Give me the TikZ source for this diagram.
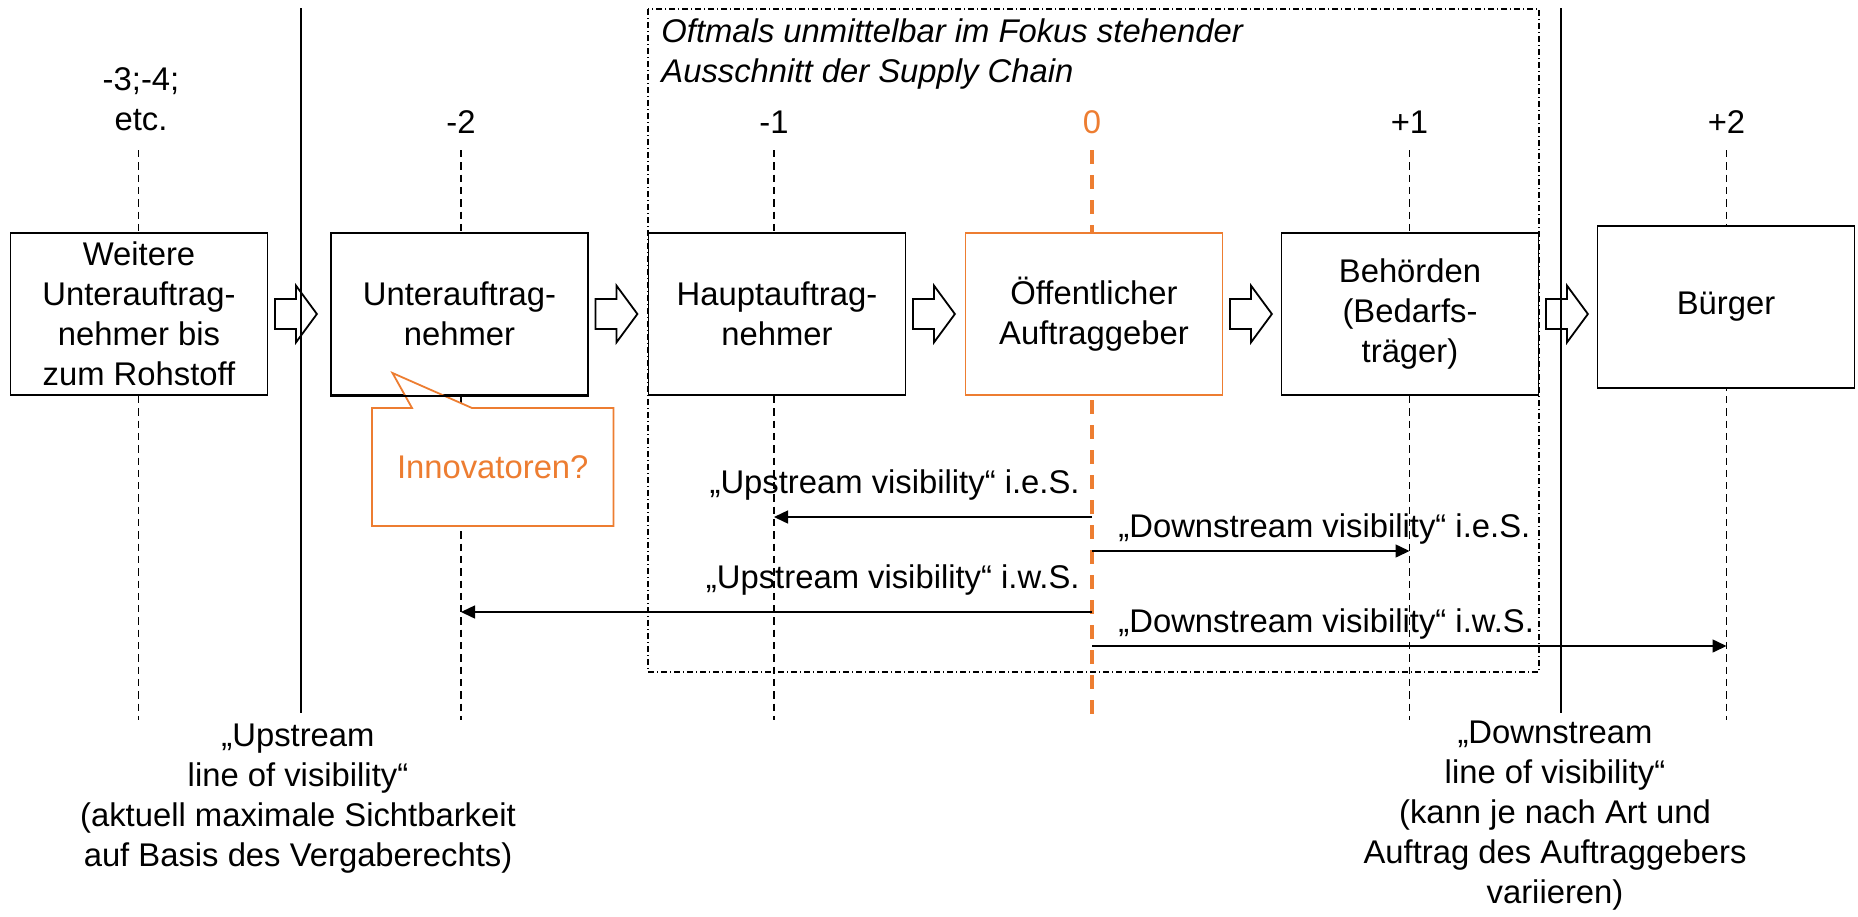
\documentclass[tikz,border=0pt]{standalone}
\usepackage{fontspec}
\setmainfont{Liberation Sans}
\usetikzlibrary{arrows.meta,calc}
\definecolor{accent}{RGB}{237,125,49}
% hollow block arrow placed just right of a stage box
\newcommand\flowarrow[1]{%
  \draw[push] ($(#1.east)+(6.5,-15)$) -- ++(21,0) -- ++(0,-13.5) -- ++(21,28.5)
    -- ++(-21,28.5) -- ++(0,-13.5) -- ++(-21,0) -- cycle;}
\begin{document}
\begin{tikzpicture}[x=0.5pt,y=-0.5pt,
  font=\fontsize{16.4}{20}\selectfont,
  stage/.style={draw=black,line width=0.9pt,fill=white,minimum width=128.5pt,
    minimum height=81pt,inner sep=0pt,align=center},
  focusstage/.style={stage,draw=accent},
  level/.style={anchor=base,inner sep=0pt},
  guide/.style={line width=0.75pt,dash pattern=on 3.65pt off 2.5pt},
  focusguide/.style={draw=accent,line width=2pt,dash pattern=on 7pt off 5.5pt},
  visline/.style={line width=0.7pt},
  flow/.style={line width=0.75pt,-{Triangle[length=7pt,width=6.5pt]}},
  focusframe/.style={line width=0.65pt,dash pattern=on 3pt off 1.5pt on 0.5pt off 1.5pt},
  push/.style={line width=0.9pt,line join=miter},
  note/.style={inner sep=0pt,align=center}]
\useasboundingbox (0,0) rectangle (1858,916);

% frame around the usual focus section
\draw[focusframe] (648,9) rectangle (1539,672);
\node[anchor=north west,inner sep=0pt,align=left,font=\fontsize{16.4}{20}\selectfont\itshape]
  (focuslabel) at (661,18) {Oftmals unmittelbar im Fokus stehender\\Ausschnitt der Supply Chain};

% stage guide lines
\foreach \n/\x in {1/138.5,2/461,3/774,5/1409.5,6/1726.5}{
  \coordinate (g\n t) at (\x,150);
  \coordinate (g\n b) at (\x,720);
  \draw[guide] (g\n t) -- (g\n b);
}
\coordinate (g4t) at (1092,150);
\coordinate (g4b) at (1092,717);
\draw[focusguide] (g4t) -- (g4b);

% lines of visibility
\coordinate (uvt) at (301,8);
\coordinate (uvb) at (301,713);
\draw[visline] (uvt) -- (uvb);
\coordinate (dvt) at (1561,8);
\coordinate (dvb) at (1561,713);
\draw[visline] (dvt) -- (dvb);

% stage numbers
\node[level] (lv1a) at (141,90) {-3;-4;};
\node[level] (lv1b) at (141,130) {etc.};
\node[level] (lv2) at (461,133) {-2};
\node[level] (lv3) at (774,133) {-1};
\node[level,text=accent] (lv4) at (1092,133) {0};
\node[level] (lv5) at (1409.5,133) {+1};
\node[level] (lv6) at (1726.5,133) {+2};

% stages
\node[stage] (s1) at (139,314) {Weitere\\Unterauftrag-\\nehmer bis\\zum Rohstoff};
\node[stage] (s2) at (459.5,314) {Unterauftrag-\\nehmer};
\node[stage] (s3) at (777,314) {Hauptauftrag-\\nehmer};
\node[focusstage] (s4) at (1094,314) {Öffentlicher\\Auftraggeber};
\node[stage] (s5) at (1410,314) {Behörden\\(Bedarfs-\\träger)};
\node[stage] (s6) at (1726,307) {Bürger};

\flowarrow{s1}
\flowarrow{s2}
\flowarrow{s3}
\flowarrow{s4}
\flowarrow{s5}

% callout; the stage border stays visible across its pointer
\draw[accent,line width=0.9pt,fill=white,line join=miter]
  (372,408) -- (412,408) -- (392.5,373) -- (472,408) -- (613.5,408)
  -- (613.5,526) -- (372,526) -- cycle;
\draw[line width=0.9pt] (s2.south west) -- (s2.south east);
\node[text=accent,inner sep=0pt] (innov) at (492.75,467) {Innovatoren?};

% visibility ranges
\coordinate (ue0) at (1092,517); \coordinate (ue1) at (774,517);
\coordinate (de0) at (1092,551); \coordinate (de1) at (1409.5,551);
\coordinate (uw0) at (1092,612); \coordinate (uw1) at (461,612);
\coordinate (dw0) at (1092,646); \coordinate (dw1) at (1726.5,646);
\draw[flow] (ue0) -- (ue1);
\draw[flow] (de0) -- (de1);
\draw[flow] (uw0) -- (uw1);
\draw[flow] (dw0) -- (dw1);
\node[anchor=base east,inner sep=0pt] (uelab) at (1080,493) {„Upstream visibility“ i.e.S.};
\node[anchor=base west,inner sep=0pt] (delab) at (1118,537) {„Downstream visibility“ i.e.S.};
\node[anchor=base east,inner sep=0pt] (uwlab) at (1080,588) {„Upstream visibility“ i.w.S.};
\node[anchor=base west,inner sep=0pt] (dwlab) at (1118,632) {„Downstream visibility“ i.w.S.};

% notes below the lines of visibility
\node[note,anchor=north] (upnote) at (298,724)
  {„Upstream\\line of visibility“\\(aktuell maximale Sichtbarkeit\\auf Basis des Vergaberechts)};
\node[note,anchor=north] (downnote) at (1555,721)
  {„Downstream\\line of visibility“\\(kann je nach Art und\\Auftrag des Auftraggebers\\variieren)};
\end{tikzpicture}
\end{document}
